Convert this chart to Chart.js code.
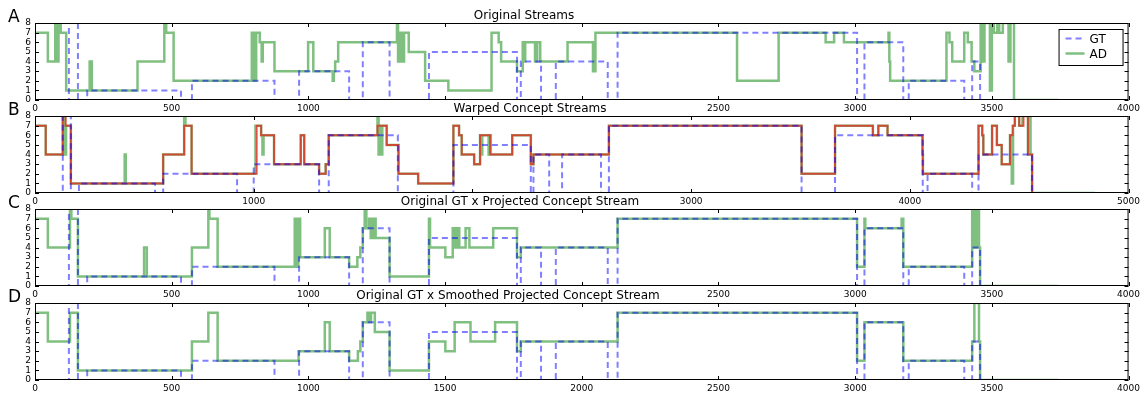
<!DOCTYPE html>
<html>
<head>
<meta charset="utf-8">
<script src="https://cdn.jsdelivr.net/npm/chart.js@4.4.0/dist/chart.umd.min.js"></script>
<style>
    body { margin: 0; background: #fff; }
    #wrap { position: relative; width: 1143px; height: 396px; }
    #wrap canvas { position: absolute; left: 0; }
</style>
</head>
<body>
<div id="wrap">
    <canvas id="panelA" width="1143" height="115" style="top:0px"></canvas>
    <canvas id="panelB" width="1143" height="115" style="top:93px"></canvas>
    <canvas id="panelC" width="1143" height="115" style="top:186px"></canvas>
    <canvas id="panelD" width="1143" height="115" style="top:280px"></canvas>
</div>
<script>
        // concept ids: each stream changes to V[i] at X[i] and holds until the next change
        const streamEnd = 3743;
        const warpedEnd = 4847;

        const origGtX = [0,124,157,191,534,574,876,966,1149,1199,1297,1441,1763,1777,1851,1905,2095,2131,3007,3034,3176,3196,3399,3428,3457];
        const origGtV = [0,8,0,1,0,2,0,3,0,6,0,5,0,4,0,4,0,7,0,6,0,2,0,4,0];

        const origAdX = [0,47,74,80,86,94,114,200,208,375,473,480,507,793,797,801,805,809,822,829,833,876,999,1018,1089,1093,1098,1109,1324,1328,
                         1332,1337,1341,1346,1350,1367,1427,1512,1670,1696,1705,1763,1784,1789,1793,1829,1837,1848,1948,2041,2050,2568,2720,2892,2923,2959,
                         3122,3125,3128,3334,3345,3355,3399,3412,3426,3436,3459,3466,3473,3493,3500,3507,3520,3527,3540,3561,3568,3581];
        const origAdV = [7,4,8,4,8,7,1,4,1,4,8,7,2,7,2,7,2,7,6,4,6,3,6,3,2,3,4,6,8,4,
                         7,4,7,4,7,5,2,1,7,6,4,3,6,4,6,4,6,4,6,3,7,2,7,6,7,6,
                         7,4,2,7,6,4,7,6,4,3,8,4,8,1,8,7,8,7,8,4,8,0];

        const warpGtX = [0,127,164,201,549,586,924,1000,1299,1343,1659,1913,2267,2279,2351,2410,2588,2624,3505,3658,4059,4081,4285,4314,4559];
        const warpGtV = [0,8,0,1,0,2,0,3,0,6,0,5,0,4,0,4,0,7,0,6,0,2,0,4,0];

        const warpAdX = [0,49,127,138,142,164,410,415,586,682,688,716,1008,1034,1040,1045,1093,1215,1231,1299,1329,1343,1566,1571,1577,1583,1588,1608,1662,1752,
                         1913,1939,1951,2008,2035,2040,2045,2074,2079,2084,2182,2267,2279,2624,3505,3658,3831,3856,3898,4057,4060,4314,4331,4336,4376,4398,4420,
                         4458,4466,4472,4480,4500,4515,4540,4546,4552,4559];
        const warpAdV = [7,4,8,4,7,1,4,1,4,8,7,2,7,6,4,6,3,6,3,2,3,6,8,4,7,4,7,5,2,1,
                         7,6,4,3,6,4,6,4,6,4,6,3,4,7,2,7,6,7,6,4,2,7,6,4,7,5,3,
                         6,1,7,8,7,8,4,8,4,0];

        const warpFitX = [0,49,127,140,164,586,682,716,1014,1034,1093,1215,1231,1299,1329,1343,1566,1608,1662,1752,1913,1939,1951,2008,2035,2081,2182,2267,2279,2624,
                          3505,3658,3831,3856,3898,4059,4314,4331,4336,4376,4398,4420,4458,4470,4480,4500,4520,4540,4559];
        const warpFitV = [7,4,8,7,1,4,7,2,7,6,3,6,3,2,3,6,7,5,2,1,7,6,4,3,6,4,6,3,4,7,
                          2,7,6,7,6,2,7,6,4,7,5,3,6,7,8,7,8,4,0];

        const projX = [0,47,128,133,157,399,409,574,634,638,668,950,954,963,970,1060,1078,1149,1179,1190,1199,1206,1212,1222,1228,1232,1238,1242,1246,1297,
                       1441,1445,1501,1528,1533,1537,1546,1550,1552,1575,1589,1676,1763,1777,2131,3007,3034,3037,3170,3176,3428,3437,3445,3453,3457];
        const projV = [7,4,8,7,1,4,1,4,8,7,2,7,2,7,3,6,3,2,3,4,6,8,6,7,5,7,5,7,5,1,
                       7,4,3,6,4,6,4,6,4,6,4,6,3,4,7,2,7,6,7,2,8,4,8,4,0];

        const smoothX = [0,47,128,157,574,634,668,964,1060,1078,1149,1181,1190,1199,1216,1222,1229,1243,1297,1441,1501,1535,1593,1683,1763,1777,2131,3007,3034,3176,3428,3436,3453,3457];
        const smoothV = [7,4,7,1,4,7,2,3,6,3,2,3,4,6,7,6,7,5,1,4,3,6,4,6,3,4,7,2,6,2,4,8,4,0];

        const ticksA = ['0','500','1000','','','2500','3000','3500','4000'];
        const ticksB = ['0','1000','','3000','4000','5000'];
        const ticksC = ['0','500','1000','','','2500','3000','3500','4000'];
        const ticksD = ['0','500','1000','1500','2000','2500','3000','3500','4000'];

        Chart.defaults.font.family = '"DejaVu Sans", sans-serif';
        Chart.defaults.font.size = 9;
        Chart.defaults.color = '#000';

        function steps(xs, vs, end) {
            const pts = xs.map((x, i) => ({ x: x, y: vs[i] }));
            pts.push({ x: end, y: vs[vs.length - 1] });
            return pts;
        }

        function gtSet(pts) {
            return { label: 'GT', data: pts, borderColor: 'rgba(0,0,255,0.5)', borderWidth: 2, borderDash: [6, 4] };
        }

        function adSet(pts) {
            return { label: 'AD', data: pts, borderColor: 'rgba(0,128,0,0.5)', borderWidth: 2.5 };
        }

        // box, inward ticks, panel letter, title and the legend
        const panelFrame = {
            id: 'panelFrame',
            afterDraw(chart, args, opts) {
                const ctx = chart.ctx;
                const a = chart.chartArea;
                const sx = chart.scales.x, sy = chart.scales.y;
                ctx.save();
                ctx.strokeStyle = '#000';
                ctx.lineWidth = 1;
                ctx.strokeRect(a.left + 0.5, a.top + 0.5, a.right - a.left - 1, a.bottom - a.top - 1);
                ctx.beginPath();
                sx.ticks.forEach(t => {
                    const p = Math.round(sx.getPixelForValue(t.value)) + 0.5;
                    ctx.moveTo(p, a.top); ctx.lineTo(p, a.top + 4);
                    ctx.moveTo(p, a.bottom); ctx.lineTo(p, a.bottom - 4);
                });
                sy.ticks.forEach(t => {
                    const p = Math.round(sy.getPixelForValue(t.value)) + 0.5;
                    ctx.moveTo(a.left, p); ctx.lineTo(a.left + 4, p);
                    ctx.moveTo(a.right, p); ctx.lineTo(a.right - 4, p);
                });
                ctx.stroke();

                ctx.fillStyle = '#000';
                ctx.textBaseline = 'alphabetic';
                ctx.font = '12px "DejaVu Sans"';
                ctx.textAlign = 'center';
                ctx.fillText(opts.title, opts.titleX, a.top - 4);
                ctx.font = '17px "DejaVu Sans"';
                ctx.textAlign = 'left';
                ctx.fillText(opts.letter, 8, a.top - 1);

                if (opts.legend) {
                    const bx = a.right - 70, by = a.top + 6;
                    ctx.fillStyle = '#fff';
                    ctx.fillRect(bx, by, 64, 36);
                    ctx.strokeRect(bx + 0.5, by + 0.5, 64, 36);
                    ctx.font = '12px "DejaVu Sans"';
                    ctx.textBaseline = 'middle';
                    chart.data.datasets.forEach((ds, i) => {
                        const y = by + 9.5 + i * 15;
                        ctx.beginPath();
                        ctx.strokeStyle = ds.borderColor;
                        ctx.lineWidth = ds.borderWidth;
                        ctx.setLineDash(ds.borderDash || []);
                        ctx.moveTo(bx + 7, y);
                        ctx.lineTo(bx + 26, y);
                        ctx.stroke();
                        ctx.setLineDash([]);
                        ctx.fillStyle = '#000';
                        ctx.fillText(ds.label, bx + 31, y + 1);
                    });
                }
                ctx.restore();
            }
        };

        function makePanel(id, datasets, xMax, xStep, xLabels, frameOpts) {
            const ctx = document.getElementById(id).getContext('2d');
            return new Chart(ctx, {
                type: 'line',
                data: { datasets: datasets },
                options: {
                    responsive: false,
                    animation: false,
                    devicePixelRatio: 1,
                    layout: { padding: { top: 23, right: 14, bottom: 0, left: 0 } },
                    elements: {
                        point: { radius: 0 },
                        line: { stepped: true, tension: 0, fill: false }
                    },
                    plugins: {
                        legend: { display: false },
                        tooltip: { enabled: false },
                        panelFrame: frameOpts
                    },
                    scales: {
                        x: {
                            type: 'linear',
                            min: 0,
                            max: xMax,
                            grid: { display: false, drawTicks: false },
                            border: { display: false },
                            ticks: {
                                stepSize: xStep,
                                autoSkip: false,
                                maxRotation: 0,
                                padding: 3,
                                callback: (v, i) => xLabels[i]
                            },
                            afterFit: s => { s.height = 15; }
                        },
                        y: {
                            min: 0,
                            max: 8,
                            grid: { display: false, drawTicks: false },
                            border: { display: false },
                            ticks: { stepSize: 1, autoSkip: false, padding: 4 },
                            afterFit: s => { s.width = 35; }
                        }
                    }
                },
                plugins: [panelFrame]
            });
        }

        const origGt = steps(origGtX, origGtV, streamEnd);

        makePanel('panelA', [gtSet(origGt), adSet(steps(origAdX, origAdV, streamEnd))], 4000, 500, ticksA,
            { letter: 'A', title: 'Original Streams', titleX: 524, legend: true });

        makePanel('panelB', [
            gtSet(steps(warpGtX, warpGtV, warpedEnd)),
            { label: 'fit', data: steps(warpFitX, warpFitV, warpedEnd), borderColor: 'rgba(255,0,0,0.6)', borderWidth: 2 },
            adSet(steps(warpAdX, warpAdV, warpedEnd))
        ], 5000, 1000, ticksB, { letter: 'B', title: 'Warped Concept Streams', titleX: 530 });

        makePanel('panelC', [gtSet(origGt), adSet(steps(projX, projV, streamEnd))], 4000, 500, ticksC,
            { letter: 'C', title: 'Original GT x Projected Concept Stream', titleX: 520 });

        makePanel('panelD', [gtSet(origGt), adSet(steps(smoothX, smoothV, streamEnd))], 4000, 500, ticksD,
            { letter: 'D', title: 'Original GT x Smoothed Projected Concept Stream', titleX: 508 });
</script>
</body>
</html>
